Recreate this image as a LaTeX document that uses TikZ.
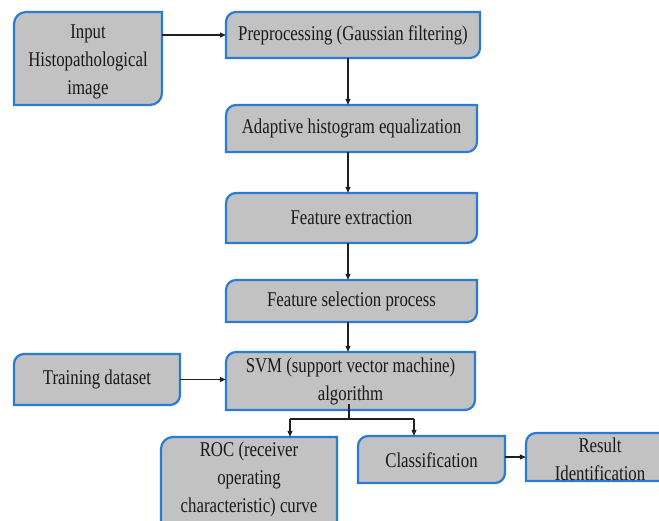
\documentclass[tikz,border=0pt]{standalone}
\usepackage{fontspec}
\setmainfont{Liberation Serif}[FakeStretch=0.8]
\usetikzlibrary{arrows.meta}
\definecolor{boxfill}{HTML}{C2C2C2}
\definecolor{boxline}{HTML}{2B7BD6}
\definecolor{arrcol}{HTML}{202020}
\tikzset{
  boxshape/.style={fill=boxfill, draw=boxline, line width=2.2pt},
  lbl/.style={align=center, inner sep=0pt, font=\fontsize{21}{28}\selectfont, text=black!90},
  arr/.style={draw=arrcol, line width=1.2pt, -{Triangle[length=6pt,width=5pt]}},
  ln/.style={draw=arrcol, line width=1.2pt},
}
% #1 name, #2 L, #3 R, #4 T, #5 B, #6 radius
\newcommand\dboxshape[6]{%
  \draw[boxshape] (#2,#5) -- (#2,#4-#6) arc[start angle=180,end angle=90,radius=#6pt]
    -- (#3,#4) -- (#3,#5+#6) arc[start angle=0,end angle=-90,radius=#6pt] -- cycle;
  \coordinate (#1) at ({(#2+#3)/2},{(#4+#5)/2});
  \path (#2,#5) coordinate (#1-sw) (#3,#4) coordinate (#1-ne);
}
\begin{document}
\begin{tikzpicture}[x=1pt,y=1pt]
\useasboundingbox (0,0) rectangle (659,520);
\clip (0,0) rectangle (659,520);
\fill[white] (0,0) rectangle (659,520);
% boxes
\dboxshape{inpb}{14}{162}{508}{415}{12}
\dboxshape{preb}{226}{480}{508}{462}{10}
\dboxshape{aheb}{226}{477}{415}{368}{10}
\dboxshape{fexb}{226}{477}{327}{277}{10}
\dboxshape{fselb}{226}{477}{240}{198}{10}
\dboxshape{trainb}{14}{180}{166}{115}{10}
\dboxshape{svmb}{226}{475}{168}{110}{10}
\dboxshape{rocb}{161}{337}{83}{-20}{12}
\dboxshape{clsb}{358}{505}{84}{37}{10}
\dboxshape{resb}{526}{672}{87}{39}{10}
% invisible nodes spanning boxes (for connectors)
\node[inner sep=0pt, fit/.style={}, minimum width=148pt, minimum height=93pt] (inp) at (inpb) {};
\node[inner sep=0pt, minimum width=254pt, minimum height=46pt] (pre) at (preb) {};
\node[inner sep=0pt, minimum width=251pt, minimum height=47pt] (ahe) at (aheb) {};
\node[inner sep=0pt, minimum width=251pt, minimum height=50pt] (fex) at (fexb) {};
\node[inner sep=0pt, minimum width=251pt, minimum height=42pt] (fsel) at (fselb) {};
\node[inner sep=0pt, minimum width=166pt, minimum height=51pt] (train) at (trainb) {};
\node[inner sep=0pt, minimum width=249pt, minimum height=58pt] (svm) at (svmb) {};
\node[inner sep=0pt, minimum width=176pt, minimum height=103pt] (roc) at (rocb) {};
\node[inner sep=0pt, minimum width=147pt, minimum height=47pt] (cls) at (clsb) {};
\node[inner sep=0pt, minimum width=146pt, minimum height=48pt] (res) at (resb) {};
% texts
\node[lbl] (tinp) at (88,458) {Input\\Histopathological\\image};
\node[lbl] (tpre) at (353,485) {Preprocessing (Gaussian filtering)};
\node[lbl] (tahe) at (351.5,391.5) {Adaptive histogram equalization};
\node[lbl] (tfex) at (351.5,302) {Feature extraction};
\node[lbl] (tfsel) at (351.5,219) {Feature selection process};
\node[lbl] (ttrain) at (97,141) {Training dataset};
\node[lbl] (tsvm) at (350.5,139) {SVM (support vector machine)\\algorithm};
\node[lbl, anchor=north] (troc) at (249,78) {ROC (receiver\\operating\\characteristic) curve};
\node[lbl] (tcls) at (431.5,60) {Classification};
\node[lbl] (tres) at (600,61) {Result\\Identification};
% connectors
\coordinate (spine) at (348,0);
\draw[arr] (pre.west -| inp.east) -- (pre.west);
\draw[arr] (pre.south -| spine) -- (ahe.north -| spine);
\draw[arr] (ahe.south -| spine) -- (fex.north -| spine);
\draw[arr] (fex.south -| spine) -- (fsel.north -| spine);
\draw[arr] (fsel.south -| spine) -- (svm.north -| spine);
\draw[arr] (train.east) -- (train.east -| svm.west);
\coordinate (split) at (349,101);
\coordinate (rocin) at (290,101);
\coordinate (clsin) at (414,101);
\draw[ln] ([yshift=6pt]svm.south -| split) -- (split);
\draw[ln] (rocin) -- (clsin);
\draw[arr] (rocin) -- (rocin |- roc.north);
\draw[arr] (clsin) -- (clsin |- cls.north);
\draw[arr] (cls.east |- 0,63) -- (res.west |- 0,63);
\end{tikzpicture}
\end{document}
